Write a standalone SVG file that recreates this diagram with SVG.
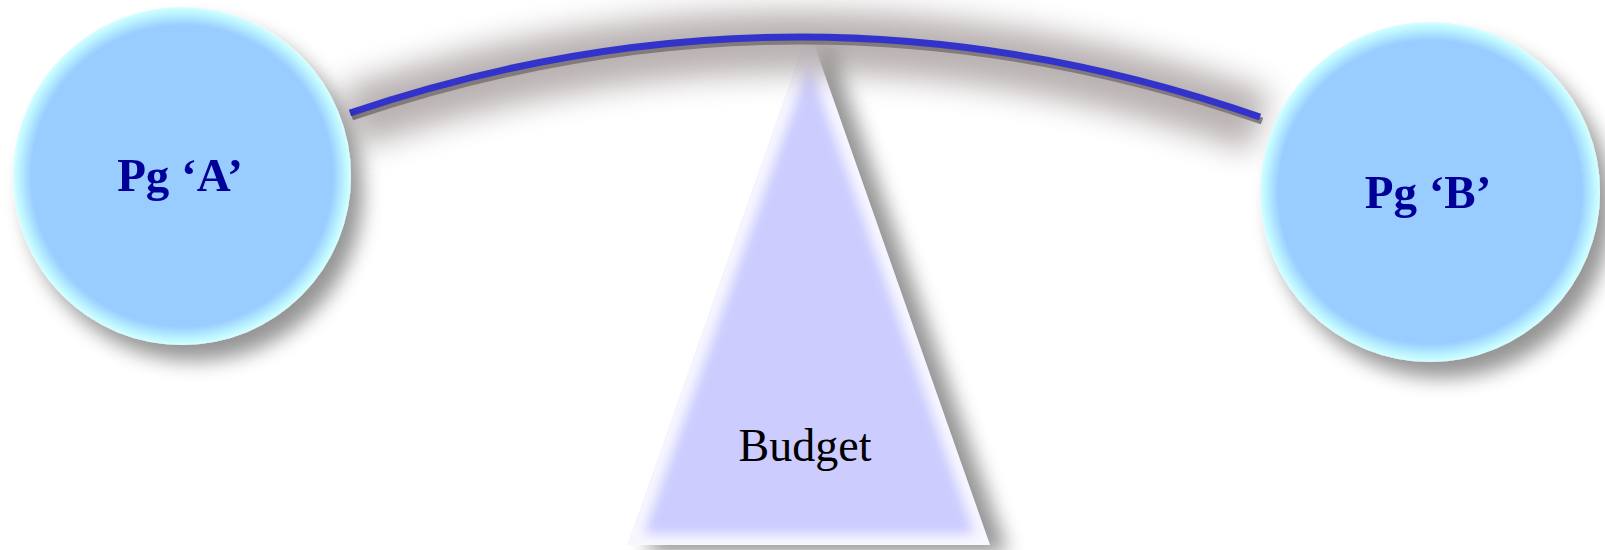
<svg xmlns="http://www.w3.org/2000/svg" width="1605" height="550" viewBox="0 0 1605 550">
  <defs>
    <style>
      .label { font-family: "Liberation Serif", "Times New Roman", serif; }
      .pg { font-size: 47px; font-weight: bold; fill: #000099; text-anchor: middle; }
      .budget { font-size: 46px; fill: #000000; text-anchor: middle; }
      .ball { fill: url(#ballFill); }
    </style>
    <radialGradient id="ballFill" cx="0.5" cy="0.5" r="0.5">
      <stop offset="0" stop-color="#99CCFF"/>
      <stop offset="0.89" stop-color="#99CCFF"/>
      <stop offset="0.965" stop-color="#BDF5FF"/>
      <stop offset="1" stop-color="#D6FFFF"/>
    </radialGradient>
    <filter id="dropShadow" x="-30%" y="-30%" width="170%" height="170%">
      <feGaussianBlur in="SourceAlpha" stdDeviation="10"/>
      <feOffset dx="12" dy="16" result="off"/>
      <feComponentTransfer><feFuncA type="linear" slope="0.42"/></feComponentTransfer>
      <feMerge><feMergeNode/><feMergeNode in="SourceGraphic"/></feMerge>
    </filter>
    <filter id="haze" x="-10%" y="-300%" width="120%" height="700%">
      <feGaussianBlur stdDeviation="15"/>
    </filter>
    <filter id="wedgeShadow" x="-30%" y="-20%" width="160%" height="140%">
      <feGaussianBlur stdDeviation="10"/>
    </filter>
    <filter id="bevelBlur" x="-20%" y="-20%" width="140%" height="140%">
      <feGaussianBlur stdDeviation="6"/>
    </filter>
    <clipPath id="wedgeClip">
      <polygon points="809,30 628,545 990,545"/>
    </clipPath>
  </defs>

  <!-- fulcrum -->
  <g id="fulcrum">
    <polygon points="809,30 628,545 990,545" fill="#000" opacity="0.42" transform="translate(18,8)" filter="url(#wedgeShadow)"/>
    <polygon points="809,30 628,545 990,545" fill="#CCCCFF"/>
    <g clip-path="url(#wedgeClip)">
      <polygon points="809,30 628,545 990,545" fill="none" stroke="#FFFFFF" stroke-width="22" opacity="0.85" filter="url(#bevelBlur)"/>
    </g>
    <text class="label budget" x="805" y="461">Budget</text>
  </g>

  <!-- beam connecting the two programmes -->
  <g id="connectors">
    <path d="M350,118 Q805,-36 1260,122" fill="none" stroke="#8A7E7E" stroke-width="62" opacity="0.6" filter="url(#haze)"/>
    <path d="M352,117 Q807,-37 1262,121" fill="none" stroke="#827A7B" stroke-width="7"/>
    <path d="M350,113 Q805,-41 1260,117" fill="none" stroke="#3333CC" stroke-width="7"/>
  </g>

  <g id="pgA" filter="url(#dropShadow)">
    <circle class="ball" cx="182" cy="176" r="169"/>
    <text class="label pg" x="180" y="191">Pg ‘A’</text>
  </g>

  <g id="pgB" filter="url(#dropShadow)">
    <circle class="ball" cx="1430" cy="192" r="170"/>
    <text class="label pg" x="1428" y="208">Pg ‘B’</text>
  </g>
</svg>
